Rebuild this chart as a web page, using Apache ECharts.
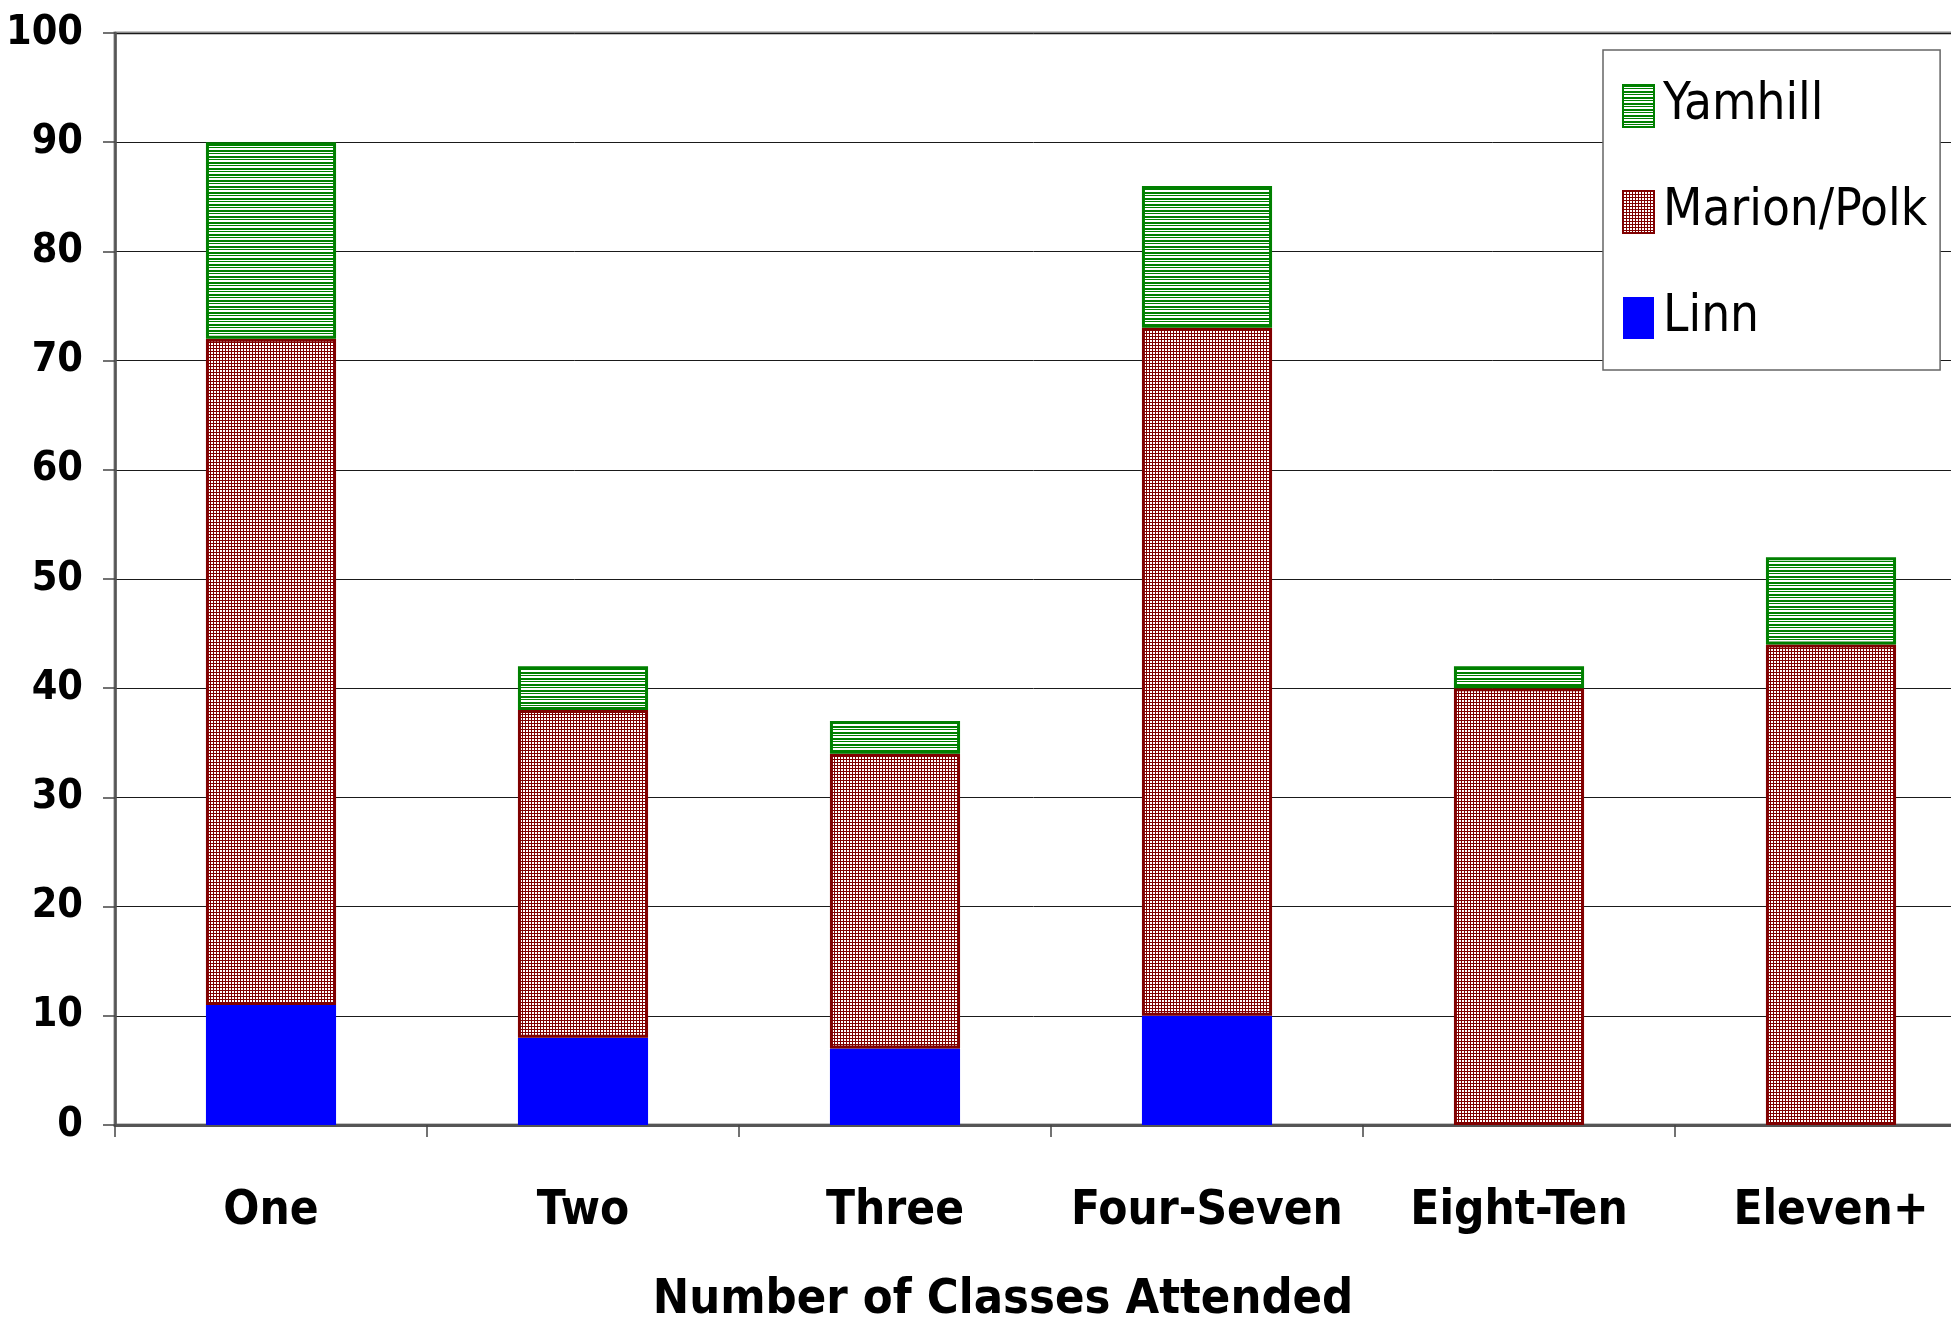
<!DOCTYPE html>
<html>
<head>
<meta charset="utf-8">
<style>
html,body{margin:0;padding:0;background:#fff;}
#chart{width:1951px;height:1325px;}
</style>
<script src="https://cdn.jsdelivr.net/npm/echarts@6/dist/echarts.min.js"></script>
</head>
<body>
<div id="chart"></div>
<script>
// ---- data ----
const categories = ['One', 'Two', 'Three', 'Four-Seven', 'Eight-Ten', 'Eleven+'];
const linn = [11, 8, 7, 10, 0, 0];
const marionPolk = [61, 30, 27, 63, 40, 44];
const yamhill = [18, 4, 3, 13, 2, 8];
const yTicks = { min: 0, max: 100, interval: 10 };
const xTitle = 'Number of Classes Attended';

// ---- pick a narrow font that is installed ----
const mctx = document.createElement('canvas').getContext('2d');
function measure(font, text) { mctx.font = font; return mctx.measureText(text).width; }
function available(name) {
  const t = 'Marion/Polk Number 0123456789';
  return measure('60px "' + name + '", monospace', t) !== measure('60px monospace', t) ||
         measure('60px "' + name + '", serif', t) !== measure('60px serif', t);
}
const candidates = ['Liberation Sans Narrow', 'Arial Narrow', 'Noto Sans Condensed',
  'Noto Sans SemiCondensed', 'DejaVu Sans Condensed', 'Liberation Sans'];
let FAMILY = 'Liberation Sans';
for (const c of candidates) { if (available(c)) { FAMILY = c; break; } }
const FONT = '"' + FAMILY + '", "Liberation Sans", Arial, sans-serif';
function fitSize(text, weight, targetWidth, maxSize) {
  const w = measure(weight + ' 100px ' + FONT, text);
  return Math.min(maxSize, Math.round(100 * targetWidth / w * 10) / 10);
}
const legendSize = fitSize('Marion/Polk', 'normal', 264, 60);
const yLabelSize = fitSize('100', 'bold', 77, 54);
const xLabelSize = fitSize('Four-Seven', 'bold', 272, 56);
const titleSize = fitSize(xTitle, 'bold', 700, 60);

// ---- fill patterns ----
function stripePattern() {
  const c = document.createElement('canvas');
  c.width = 6; c.height = 6;
  const g = c.getContext('2d');
  g.fillStyle = '#ffffff'; g.fillRect(0, 0, 6, 6);
  g.fillStyle = '#008000';
  [0, 1, 3].forEach(r => g.fillRect(0, r, 6, 1));
  return c;
}
function dotPattern() {
  const c = document.createElement('canvas');
  c.width = 3; c.height = 3;
  const g = c.getContext('2d');
  g.fillStyle = '#800000'; g.fillRect(0, 0, 3, 3);
  g.fillStyle = '#ffffff';
  g.fillRect(1, 1, 2, 2);
  return c;
}

const chart = echarts.init(document.getElementById('chart'), null, { renderer: 'canvas' });

const option = {
  backgroundColor: '#ffffff',
  animation: false,
  grid: {
    left: 115, top: 33, width: 1872, height: 1092,
    containLabel: false, outerBoundsMode: 'none',
    show: true, borderColor: '#8a8a8a', borderWidth: 3, backgroundColor: 'transparent'
  },
  legend: {
    orient: 'vertical',
    left: 1603, top: 50,
    data: ['Yamhill', 'Marion/Polk', 'Linn'],
    icon: 'rect',
    itemWidth: 31, itemHeight: 42,
    itemGap: 46,
    padding: [26, 13, 22, 19],
    backgroundColor: '#ffffff',
    borderColor: '#666666', borderWidth: 1.5,
    textStyle: { fontFamily: FONT, fontSize: legendSize, lineHeight: 60, color: '#000', padding: [0, 0, 0, 4] }
  },
  xAxis: {
    type: 'category',
    data: categories,
    axisLine: { lineStyle: { color: '#555', width: 3 } },
    axisTick: { show: true, length: 12, lineStyle: { color: '#444', width: 1.5 } },
    axisLabel: { interval: 0, fontFamily: FONT, fontWeight: 'bold', fontSize: xLabelSize, color: '#000', margin: 63 },
    splitLine: { show: false }
  },
  yAxis: {
    type: 'value',
    min: yTicks.min, max: yTicks.max, interval: yTicks.interval,
    axisLine: { show: true, lineStyle: { color: '#555', width: 2.5 } },
    axisTick: { show: true, length: 12, lineStyle: { color: '#444', width: 1.5 } },
    axisLabel: { fontFamily: FONT, fontWeight: 'bold', fontSize: yLabelSize, color: '#000', margin: 32 },
    splitLine: { show: true, lineStyle: { color: '#1a1a1a', width: 1 } }
  },
  series: [
    {
      name: 'Linn', type: 'bar', stack: 'total', data: linn, barWidth: '41.7%',
      itemStyle: { color: '#0000ff', borderWidth: 0 }
    },
    {
      name: 'Marion/Polk', type: 'bar', stack: 'total', data: marionPolk, barWidth: '41.7%',
      itemStyle: { color: { image: dotPattern(), repeat: 'repeat' }, borderColor: '#800000', borderWidth: 3 }
    },
    {
      name: 'Yamhill', type: 'bar', stack: 'total', data: yamhill, barWidth: '41.7%',
      itemStyle: { color: { image: stripePattern(), repeat: 'repeat' }, borderColor: '#008000', borderWidth: 3 }
    }
  ],
  graphic: [
    {
      type: 'text', x: 1003, y: 1300,
      style: {
        text: xTitle, fontFamily: FONT, fontWeight: 'bold', fontSize: titleSize,
        fill: '#000', textAlign: 'center', textVerticalAlign: 'middle'
      }
    }
  ]
};
chart.setOption(option);
</script>
</body>
</html>
